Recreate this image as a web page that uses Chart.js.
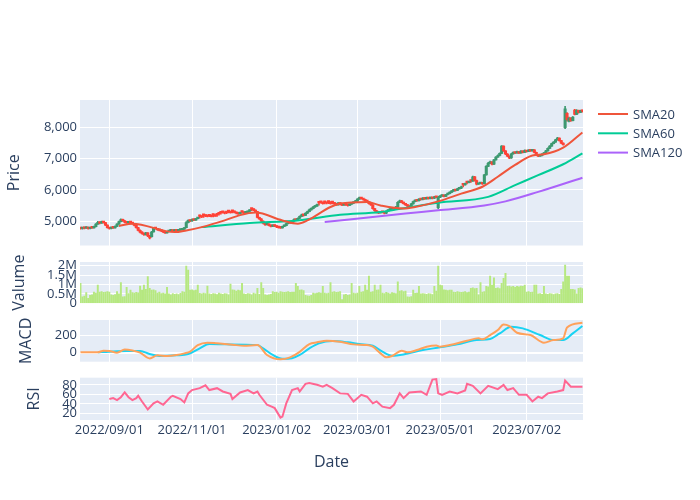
<!DOCTYPE html>
<html><head><meta charset="utf-8">
<script src="https://cdn.jsdelivr.net/npm/chart.js@4.4.0/dist/chart.umd.min.js"></script>
<style>
html,body{margin:0;padding:0;background:#fff;}
#wrap{position:relative;width:700px;height:500px;overflow:hidden;}
#wrap canvas{position:absolute;left:0;top:0;}
</style></head><body>
<div id="wrap">
<canvas id="cPrice" width="700" height="500"></canvas>
<canvas id="cVol" width="700" height="500"></canvas>
<canvas id="cMacd" width="700" height="500"></canvas>
<canvas id="cRsi" width="700" height="500"></canvas>
</div>
<script>
// ---------- DATA ----------
const startDate = '2022-08-11';
const endDate = '2023-08-11';
const tickDates = ['2022-09-01','2022-11-01','2023-01-02','2023-03-01','2023-05-01','2023-07-02'];
const tickLabels = ['2022/09/01','2022/11/01','2023/01/02','2023/03/01','2023/05/01','2023/07/02'];
const priceTicks = [5000, 6000, 7000, 8000];
const volumeTicks = [0, 500000, 1000000, 1500000, 2000000];
const macdTicks = [0, 200];
const rsiTicks = [20, 40, 60, 80];

const open = [
4770,4760,
4790,4770,4800,4760,4790, 4780,4820,4900,4960,4930, 4980,4950,4870,4790,4760, 4790,4780,4830,4900,4980,
5050,5010,4960,4940,4980, 4950,4920,4860,4790,4700, 4640,4600,4560,4620,4520, 4500,4650,4780,4760,4720,
4700,4680,4650,4620,4660, 4690,4700,4680,4720,4690, 4710,4720,4740,4790,4950, 5020,5000,5050,5030,5080,
5170,5160,5200,5190,5170, 5190,5180,5210,5190,5220, 5250,5270,5300,5280,5290, 5320,5300,5330,5310,5280,
5250,5240,5310,5280,5260, 5280,5320,5400,5370,5330, 5300,5120,5070,5000,4930, 4880,4900,4860,4830,4870,
4840,4810,4790,4780,4830, 4850,4920,4970,4940,5000, 5050,5030,5090,5150,5200, 5180,5250,5300,5360,5400,
5450,5480,5600,5620,5600, 5620,5600,5630,5610,5610, 5590,5550,5520,5580,5540, 5510,5560,5520,5500,5540,
5570,5600,5640,5700,5750, 5720,5690,5650,5620,5560, 5520,5400,5330,5280,5260, 5300,5280,5250,5320,5350,
5380,5400,5380,5450,5600, 5650,5600,5560,5520,5480, 5450,5550,5620,5660,5650, 5700,5690,5730,5710,5750,
5720,5750,5730,5770,5430, 5760,5800,5820,5790,5850, 5880,5920,5960,6000,5980, 6030,6050,6180,6160,6250,
6230,6300,6280,6420,6300, 6180,6200,6220,6200,6480, 6750,6850,6900,6820,6960, 7050,7100,7170,7400,7250,
7150,7080,7020,7150,7200, 7180,7220,7180,7240,7200, 7260,7230,7270,7250,7280, 7200,7120,7080,7100,7140,
7180,7250,7330,7400,7480, 7530,7600,7660,7580,7500, 7990,8450,8200,8300,8220, 8560,8420,8550,8480,8540
];
const high = [
4790,4800,
4810,4820,4810,4800,4810, 4840,4920,4990,4980,5000, 4990,4960,4880,4800,4810, 4800,4850,4920,5000,5070,
5060,5020,4980,4990,4990, 4960,4930,4870,4800,4720, 4660,4620,4640,4630,4540, 4670,4800,4800,4770,4730,
4710,4690,4660,4670,4700, 4720,4710,4730,4730,4720, 4740,4750,4790,4980,5040, 5040,5070,5060,5090,5120,
5190,5170,5210,5200,5180, 5200,5190,5220,5200,5230, 5260,5290,5310,5290,5300, 5330,5310,5340,5320,5290,
5260,5270,5320,5300,5290, 5320,5360,5410,5390,5360, 5310,5130,5080,5010,4940, 4920,4910,4870,4880,4880,
4850,4820,4800,4840,4870, 4940,4990,4980,5010,5070, 5060,5100,5170,5220,5210, 5270,5320,5380,5420,5470,
5500,5540,5610,5630,5610, 5630,5610,5640,5620,5620, 5600,5560,5590,5590,5550, 5570,5570,5530,5550,5580,
5620,5660,5720,5770,5760, 5730,5700,5660,5630,5570, 5530,5410,5340,5290,5310, 5310,5290,5330,5360,5400,
5420,5410,5470,5620,5670, 5660,5610,5570,5530,5490, 5570,5640,5680,5680,5720, 5720,5750,5740,5770,5760,
5770,5760,5790,5790,5790, 5820,5840,5830,5860,5900, 5940,5980,6020,6010,6050, 6070,6120,6190,6220,6260,
6270,6310,6440,6430,6310, 6220,6240,6230,6500,6780, 6880,6920,6910,6980,7070, 7120,7190,7420,7410,7260,
7160,7090,7170,7220,7210, 7240,7230,7260,7250,7280, 7270,7290,7280,7300,7290, 7210,7130,7120,7160,7200,
7270,7350,7420,7500,7550, 7620,7680,7670,7590,7510, 8680,8480,8330,8320,8350, 8580,8570,8560,8560,8560
];
const low = [
4740,4740,
4750,4760,4740,4750,4760, 4770,4810,4890,4910,4920, 4930,4850,4770,4740,4750, 4760,4770,4820,4890,4970,
4990,4940,4920,4930,4930, 4900,4840,4770,4680,4620, 4580,4540,4550,4500,4430, 4480,4640,4740,4700,4680,
4660,4630,4600,4610,4650, 4680,4670,4670,4680,4680, 4700,4710,4730,4780,4940, 4980,4990,5010,5020,5070,
5090,5110,5120,5140,5130, 5140,5130,5130,5150,5150, 5190,5220,5250,5230,5240, 5260,5250,5260,5260,5230,
5210,5220,5250,5240,5240, 5270,5290,5330,5330,5280, 5100,5050,4980,4910,4860, 4870,4840,4810,4820,4820,
4790,4770,4760,4770,4820, 4840,4910,4920,4930,4990, 5010,5020,5080,5140,5160, 5170,5240,5290,5350,5390,
5440,5470,5510,5570,5540, 5550,5550,5560,5540,5550, 5530,5500,5510,5520,5490, 5500,5500,5480,5490,5530,
5560,5590,5630,5690,5700, 5670,5630,5600,5540,5500, 5380,5310,5260,5240,5250, 5260,5230,5240,5310,5340,
5370,5360,5370,5440,5590, 5580,5540,5500,5460,5430, 5440,5540,5610,5630,5640, 5670,5680,5690,5700,5700,
5710,5710,5720,5740,5400, 5750,5790,5770,5780,5840, 5870,5910,5950,5960,5970, 6020,6040,6090,6150,6190,
6220,6240,6270,6280,6160, 6170,6190,6170,6190,6470, 6740,6840,6800,6810,6950, 7040,7090,7160,7230,7130,
7060,7000,7010,7140,7160, 7170,7160,7170,7180,7190, 7210,7220,7230,7240,7180, 7100,7060,7070,7090,7130,
7170,7240,7320,7390,7470, 7520,7590,7560,7480,7430, 7960,8200,8180,8190,8210, 8400,8410,8460,8470,8490
];
const close = [
4760,4780,
4770,4800,4760,4790,4780, 4820,4900,4960,4930,4980, 4950,4870,4790,4760,4790, 4780,4830,4900,4980,5050,
5010,4960,4940,4980,4950, 4920,4860,4790,4700,4640, 4600,4560,4620,4520,4460, 4650,4780,4760,4720,4700,
4680,4650,4620,4660,4690, 4700,4680,4720,4690,4710, 4720,4740,4780,4950,5020, 5000,5050,5030,5080,5100,
5150,5130,5180,5160,5150, 5170,5140,5190,5160,5200, 5230,5260,5280,5250,5270, 5300,5270,5310,5280,5250,
5230,5260,5290,5250,5280, 5300,5340,5380,5350,5300, 5120,5070,5000,4930,4880, 4900,4860,4830,4870,4840,
4810,4790,4780,4830,4850, 4920,4970,4940,5000,5050, 5030,5090,5150,5200,5180, 5250,5300,5360,5400,5450,
5480,5520,5580,5600,5560, 5600,5570,5610,5560,5590, 5550,5520,5580,5540,5510, 5560,5520,5500,5540,5570,
5600,5640,5700,5750,5720, 5690,5650,5620,5560,5520, 5400,5330,5280,5260,5300, 5280,5250,5320,5350,5380,
5400,5380,5450,5600,5650, 5600,5560,5520,5480,5450, 5550,5620,5660,5650,5700, 5690,5730,5710,5750,5720,
5750,5730,5770,5760,5760, 5800,5820,5790,5850,5880, 5920,5960,6000,5980,6030, 6050,6100,6160,6200,6230,
6250,6280,6420,6300,6180, 6200,6220,6190,6480,6750, 6850,6900,6820,6960,7050, 7100,7170,7400,7250,7150,
7080,7020,7150,7200,7180, 7220,7180,7240,7200,7260, 7230,7270,7250,7280,7200, 7120,7080,7100,7140,7180,
7250,7330,7400,7480,7530, 7600,7660,7580,7500,7450, 8600,8250,8300,8220,8330, 8420,8550,8480,8540,8520
];
const volume = [
1.06e6,0.35e6,0.38e6,0.57e6,0.27e6,0.42e6,0.45e6,0.60e6,0.55e6,0.97e6,
0.60e6,0.62e6,0.58e6,0.60e6,0.63e6,0.60e6,0.45e6,0.42e6,0.46e6,0.62e6,
0.50e6,1.10e6,0.35e6,0.36e6,0.85e6,0.52e6,0.70e6,0.57e6,0.55e6,0.58e6,
0.56e6,0.92e6,0.70e6,0.97e6,0.75e6,1.42e6,0.80e6,0.70e6,0.72e6,0.68e6,
0.55e6,0.60e6,0.52e6,0.55e6,0.50e6,0.85e6,0.50e6,0.45e6,0.52e6,0.48e6,
0.50e6,0.47e6,0.53e6,0.62e6,0.60e6,1.98e6,1.77e6,0.70e6,0.72e6,0.68e6,
0.70e6,0.97e6,0.53e6,0.50e6,0.55e6,0.52e6,0.92e6,0.50e6,0.48e6,0.52e6,
0.50e6,0.47e6,0.55e6,0.50e6,0.48e6,0.52e6,0.50e6,0.45e6,1.03e6,0.72e6,
0.70e6,0.65e6,0.70e6,0.68e6,1.06e6,0.50e6,0.48e6,0.52e6,0.50e6,0.45e6,
0.55e6,0.50e6,0.80e6,0.48e6,1.10e6,0.80e6,0.45e6,0.42e6,0.45e6,0.48e6,
0.62e6,0.58e6,0.60e6,0.55e6,0.62e6,0.60e6,0.58e6,0.60e6,0.62e6,0.58e6,
0.60e6,0.60e6,1.06e6,0.90e6,0.70e6,0.72e6,0.68e6,0.42e6,0.40e6,0.38e6,
0.42e6,0.55e6,0.52e6,0.55e6,0.57e6,0.55e6,0.90e6,0.55e6,0.52e6,0.55e6,
1.10e6,0.60e6,0.62e6,0.58e6,0.60e6,0.62e6,0.20e6,0.45e6,0.48e6,0.42e6,
0.45e6,1.06e6,0.55e6,0.52e6,0.55e6,0.90e6,0.60e6,0.62e6,0.97e6,0.70e6,
1.45e6,0.60e6,0.62e6,0.97e6,0.70e6,0.72e6,0.97e6,0.55e6,0.52e6,0.58e6,
0.55e6,0.50e6,0.57e6,0.55e6,0.52e6,1.15e6,0.65e6,0.68e6,0.62e6,0.65e6,
0.35e6,0.33e6,0.36e6,0.70e6,0.53e6,0.55e6,0.90e6,0.50e6,0.52e6,0.50e6,
0.48e6,0.52e6,0.50e6,0.47e6,0.90e6,0.65e6,1.98e6,0.97e6,0.95e6,0.72e6,
0.70e6,0.68e6,0.70e6,0.70e6,0.60e6,0.58e6,0.62e6,0.60e6,0.58e6,0.60e6,
0.62e6,0.57e6,0.60e6,0.80e6,0.82e6,0.78e6,0.80e6,0.45e6,1.10e6,0.60e6,
0.62e6,0.90e6,0.88e6,1.45e6,0.97e6,1.36e6,0.80e6,0.82e6,0.78e6,1.06e6,
1.33e6,1.60e6,0.90e6,0.92e6,0.88e6,0.90e6,0.85e6,0.90e6,0.88e6,0.92e6,
0.90e6,0.97e6,0.60e6,0.62e6,0.58e6,0.60e6,0.97e6,0.97e6,0.50e6,0.52e6,
0.48e6,0.90e6,0.50e6,0.48e6,0.52e6,0.50e6,0.47e6,0.50e6,0.52e6,0.48e6,
0.75e6,1.15e6,2.04e6,1.45e6,1.45e6,0.75e6,0.75e6,0.72e6,0.50e6,0.80e6,
0.82e6,0.78e6
];

const sma20Dates = ['2022-09-08','2022-09-19','2022-10-19','2022-10-27','2022-11-08','2022-11-24','2022-12-06','2022-12-16','2023-01-05','2023-01-17','2023-01-24','2023-02-09','2023-02-16','2023-03-08','2023-03-17','2023-04-04','2023-04-12','2023-04-28','2023-05-16','2023-05-31','2023-06-12','2023-06-23','2023-07-06','2023-07-14','2023-07-28','2023-08-11'];
const sma20 = [4840,4915,4645,4700,4805,5020,5190,5270,5020,4915,5020,5450,5560,5610,5500,5400,5450,5630,5880,6100,6420,6800,7100,7140,7350,7840];
const sma60Dates = ['2022-11-08','2022-12-13','2023-01-17','2023-02-16','2023-03-17','2023-04-05','2023-04-28','2023-06-05','2023-06-23','2023-07-11','2023-07-28','2023-08-11'];
const sma60 = [4805,4935,5020,5200,5290,5420,5590,5775,6150,6470,6820,7170];
const sma120Dates = ['2023-02-06','2023-04-05','2023-04-28','2023-06-01','2023-06-16','2023-07-11','2023-08-11'];
const sma120 = [4970,5240,5345,5500,5630,5935,6390];

const macdDates = ['2022-08-11','2022-08-24','2022-08-29','2022-09-01','2022-09-07','2022-09-13','2022-09-19','2022-09-23','2022-09-30','2022-10-06','2022-10-13','2022-10-20','2022-10-26','2022-10-31','2022-11-04','2022-11-11','2022-11-18','2022-11-30','2022-12-08','2022-12-19','2022-12-26','2023-01-04','2023-01-11','2023-01-18','2023-01-25','2023-01-31','2023-02-07','2023-02-16','2023-02-27','2023-03-08','2023-03-13','2023-03-17','2023-03-22','2023-03-27','2023-04-03','2023-04-06','2023-04-13','2023-04-20','2023-04-27','2023-05-01','2023-05-08','2023-05-19','2023-05-29','2023-05-31','2023-06-06','2023-06-12','2023-06-15','2023-06-20','2023-06-26','2023-07-05','2023-07-14','2023-07-21','2023-07-28','2023-08-01','2023-08-11'];
const macd = [4,4,24,20,0,39,27,0,-67,-31,-39,-27,-8,12,90,118,110,94,82,90,-27,-78,-55,10,102,122,141,129,98,90,71,-8,-55,-39,24,4,31,71,86,71,90,141,169,157,208,267,333,314,235,208,118,149,169,298,353];
const signalDates = ['2022-08-24','2022-09-01','2022-09-14','2022-09-23','2022-09-30','2022-10-07','2022-10-20','2022-10-28','2022-11-07','2022-11-14','2022-11-25','2022-12-19','2022-12-22','2022-12-29','2023-01-05','2023-01-12','2023-01-18','2023-01-25','2023-02-01','2023-02-10','2023-02-22','2023-03-02','2023-03-13','2023-03-20','2023-03-27','2023-04-04','2023-04-18','2023-05-01','2023-05-12','2023-05-26','2023-06-06','2023-06-13','2023-06-21','2023-06-29','2023-07-12','2023-07-21','2023-07-28','2023-08-04','2023-08-11'];
const signal = [4,12,20,20,-16,-39,-31,-16,51,102,98,90,51,-27,-71,-65,-27,51,110,137,122,102,82,12,-35,-20,31,63,98,149,161,227,306,286,208,149,149,227,314];

const rsiDates = ['2022-09-01','2022-09-05','2022-09-07','2022-09-09','2022-09-13','2022-09-15','2022-09-19','2022-09-21','2022-09-22','2022-09-26','2022-09-29','2022-10-04','2022-10-06','2022-10-11','2022-10-17','2022-10-18','2022-10-24','2022-10-26','2022-10-28','2022-11-01','2022-11-07','2022-11-10','2022-11-14','2022-11-18','2022-11-23','2022-11-29','2022-11-30','2022-12-06','2022-12-12','2022-12-15','2022-12-19','2022-12-20','2022-12-26','2022-12-29','2022-12-30','2023-01-04','2023-01-05','2023-01-09','2023-01-12','2023-01-17','2023-01-18','2023-01-23','2023-01-25','2023-01-31','2023-02-03','2023-02-07','2023-02-10','2023-02-16','2023-02-22','2023-02-27','2023-03-01','2023-03-03','2023-03-08','2023-03-13','2023-03-15','2023-03-20','2023-03-24','2023-03-28','2023-03-31','2023-04-04','2023-04-07','2023-04-17','2023-04-20','2023-04-25','2023-04-27','2023-04-28','2023-05-02','2023-05-08','2023-05-12','2023-05-18','2023-05-19','2023-05-24','2023-05-30','2023-06-05','2023-06-12','2023-06-15','2023-06-19','2023-06-22','2023-06-27','2023-07-03','2023-07-06','2023-07-11','2023-07-13','2023-07-18','2023-07-25','2023-07-28','2023-07-31','2023-08-03','2023-08-11'];
const rsi = [50,52,48,54,64,54,48,52,57,45,28,41,45,38,55,57,50,43,62,69,73,79,69,73,66,61,50,64,69,62,66,59,38,33,31,11,13,41,69,73,66,82,84,80,76,80,73,62,61,45,52,59,55,41,45,34,31,38,62,52,64,66,59,91,92,62,59,66,62,68,82,78,62,78,71,80,69,73,59,59,45,55,52,62,66,69,89,76,76];

// ---------- SETUP ----------
const FONT = "'Open Sans', verdana, arial, sans-serif";
const TXT = '#2a3f5f';
Chart.defaults.font.family = FONT;
Chart.defaults.font.size = 13;
Chart.defaults.color = TXT;

function ymd(d){ return d.toISOString().slice(0,10); }
const tradingDates = [];
for (let d = new Date(startDate + 'T00:00:00Z'); ymd(d) <= endDate; d.setUTCDate(d.getUTCDate() + 1)) {
  const w = d.getUTCDay();
  if (w !== 0 && w !== 6) tradingDates.push(ymd(d));
}
const idxMap = {};
tradingDates.forEach((d, i) => idxMap[d] = i);
function dateIndex(ds) {
  if (ds in idxMap) return idxMap[ds];
  for (let i = 0; i < tradingDates.length; i++) if (tradingDates[i] > ds) return i;
  return tradingDates.length - 1;
}
function pts(dates, vals){ return dates.map((d, i) => ({x: dateIndex(d), y: vals[i]})); }

const X_MIN = -0.25, X_MAX = 261.3;
const PANELS = {price:[100,245.5], vol:[262,303.3], macd:[320,361.7], rsi:[377.7,420]};

const bgPlugin = {
  id: 'plotbg',
  beforeDraw(chart) {
    const {ctx, chartArea: a} = chart;
    ctx.save();
    ctx.fillStyle = '#E5ECF6';
    ctx.fillRect(a.left, a.top, a.right - a.left, a.bottom - a.top);
    ctx.restore();
  }
};
const legendPlugin = {
  id: 'plotlyLegend',
  afterDraw(chart) {
    const ctx = chart.ctx;
    const items = chart.data.datasets.filter(d => d.type === 'line');
    ctx.save();
    ctx.font = '13px ' + FONT;
    ctx.textBaseline = 'middle';
    ctx.textAlign = 'left';
    items.forEach((d, k) => {
      const y = 114 + k * 19.3;
      ctx.strokeStyle = d.borderColor;
      ctx.lineWidth = 2;
      ctx.beginPath(); ctx.moveTo(598, y); ctx.lineTo(628, y); ctx.stroke();
      ctx.fillStyle = TXT;
      ctx.fillText(d.label, 633, y + 0.8);
    });
    ctx.restore();
  }
};

function xScale(panel, bottomAxis) {
  const h = 500 - PANELS[panel][1];
  return {
    type: 'linear', min: X_MIN, max: X_MAX, offset: false,
    grid: {color: '#ffffff', lineWidth: 1, drawTicks: false, offset: false},
    border: {display: false},
    afterBuildTicks: s => { s.ticks = tickDates.map(d => ({value: dateIndex(d)})); },
    ticks: {display: bottomAxis, autoSkip: false, maxRotation: 0, minRotation: 0, padding: 2,
            font: {size: 13}, color: TXT, callback: (v, i) => tickLabels[i]},
    title: bottomAxis ? {display: true, text: 'Date', font: {size: 16}, color: TXT, padding: {top: 0, bottom: 27.6}} : {display: false},
    afterFit: s => { s.height = h; }
  };
}
function yScale(min, max, tickVals, fmt, title, titlePad, zeroBold) {
  return {
    type: 'linear', min: min, max: max,
    grid: {color: '#ffffff', drawTicks: false,
           lineWidth: c => (zeroBold && c.tick && c.tick.value === 0) ? 2 : 1},
    border: {display: false},
    afterBuildTicks: s => { s.ticks = tickVals.map(v => ({value: v})); },
    ticks: {padding: 3, autoSkip: false, font: {size: 13}, color: TXT, callback: v => fmt(v)},
    title: {display: true, text: title, font: {size: 16}, color: TXT, padding: {top: titlePad, bottom: 0}},
    afterFit: s => { s.width = 80; }
  };
}
function baseOptions(panel) {
  return {
    responsive: false, animation: false, devicePixelRatio: 1, events: [],
    layout: {padding: {top: PANELS[panel][0], left: 0, right: 117, bottom: 0}},
    plugins: {legend: {display: false}, tooltip: {enabled: false}, title: {display: false}}
  };
}

const INC = '#3D9970', DEC = '#FF4136';
const candleColors = close.map((c, i) => c >= open[i] ? INC : DEC);

// ---------- PRICE ----------
{
  const opts = baseOptions('price');
  opts.scales = {
    x: xScale('price', false),
    y: yScale(4216, 8880, priceTicks, v => v.toLocaleString('en-US'), 'Price', 5, false)
  };
  new Chart(document.getElementById('cPrice'), {
    type: 'bar',
    data: {
      datasets: [
        {type: 'line', label: 'SMA20', data: pts(sma20Dates, sma20), borderColor: '#EF553B', borderWidth: 2, pointRadius: 0, cubicInterpolationMode: 'monotone', order: 0},
        {type: 'line', label: 'SMA60', data: pts(sma60Dates, sma60), borderColor: '#00CC96', borderWidth: 2, pointRadius: 0, cubicInterpolationMode: 'monotone', order: 0},
        {type: 'line', label: 'SMA120', data: pts(sma120Dates, sma120), borderColor: '#AB63FA', borderWidth: 2, pointRadius: 0, cubicInterpolationMode: 'monotone', order: 0},
        {type: 'bar', label: 'body', data: open.map((o, i) => ({x: i, y: [o, close[i]]})), backgroundColor: candleColors, barThickness: 2.4, minBarLength: 1.5, grouped: false, order: 1},
        {type: 'bar', label: 'wick', data: low.map((l, i) => ({x: i, y: [l, high[i]]})), backgroundColor: candleColors, barThickness: 1, grouped: false, order: 2}
      ]
    },
    options: opts,
    plugins: [bgPlugin, legendPlugin]
  });
}
// ---------- VOLUME ----------
{
  const opts = baseOptions('vol');
  opts.scales = {
    x: xScale('vol', false),
    y: yScale(0, 2.2e6, volumeTicks, v => v === 0 ? '0' : (v / 1e6) + 'M', 'Valume', 10, false)
  };
  new Chart(document.getElementById('cVol'), {
    type: 'bar',
    data: {datasets: [{label: 'Volume', data: volume.map((v, i) => ({x: i, y: v})), backgroundColor: '#B6E880', barThickness: 1.3}]},
    options: opts,
    plugins: [bgPlugin]
  });
}
// ---------- MACD ----------
{
  const opts = baseOptions('macd');
  opts.scales = {
    x: xScale('macd', false),
    y: yScale(-106, 385, macdTicks, v => String(v), 'MACD', 17, true)
  };
  new Chart(document.getElementById('cMacd'), {
    type: 'line',
    data: {datasets: [
      {label: 'MACD', data: pts(macdDates, macd), borderColor: '#FFA15A', borderWidth: 2, pointRadius: 0, cubicInterpolationMode: 'monotone'},
      {label: 'Signal', data: pts(signalDates, signal), borderColor: '#19D3F3', borderWidth: 2, pointRadius: 0, cubicInterpolationMode: 'monotone'}
    ]},
    options: opts,
    plugins: [bgPlugin]
  });
}
// ---------- RSI ----------
{
  const opts = baseOptions('rsi');
  opts.scales = {
    x: xScale('rsi', true),
    y: yScale(6, 95, rsiTicks, v => String(v), 'RSI', 25, false)
  };
  new Chart(document.getElementById('cRsi'), {
    type: 'line',
    data: {datasets: [
      {label: 'RSI', data: pts(rsiDates, rsi), borderColor: '#FF6692', borderWidth: 2, pointRadius: 0, tension: 0}
    ]},
    options: opts,
    plugins: [bgPlugin]
  });
}
</script>
</body></html>
